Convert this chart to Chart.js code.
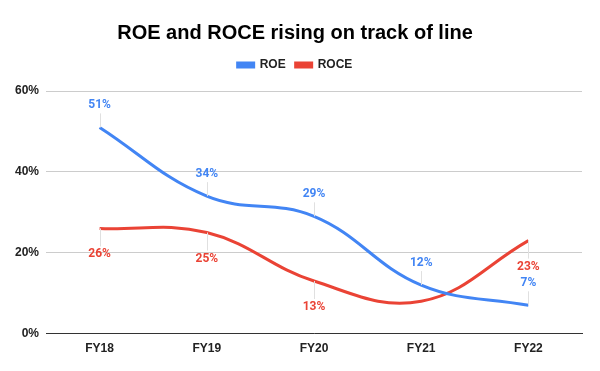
<!DOCTYPE html>
<html>
<head>
<meta charset="utf-8">
<script src="https://cdn.jsdelivr.net/npm/chart.js@4.4.0/dist/chart.umd.min.js"></script>
<style>
  html, body { margin: 0; padding: 0; background: #fff; }
  #wrap { width: 600px; height: 371px; }
</style>
</head>
<body>
<div id="wrap"><canvas id="roeChart" width="600" height="371"></canvas></div>
<script>
const years = ['FY18', 'FY19', 'FY20', 'FY21', 'FY22'];
const roeValues = [51, 34, 29, 12, 7];
const roceValues = [26, 25, 13, 8, 23];
const yTicks = [0, 20, 40, 60];

// where each data label sits: 'up', 'down' or null (hidden, as in the original)
const roeLabelSide = ['up', 'up', 'up', 'up', 'up'];
const roceLabelSide = ['down', 'down', 'down', null, 'down'];

const BLUE = '#4285f4';
const RED = '#ea4335';

const labelPlugin = {
  id: 'pointLabels',
  afterDatasetsDraw(chart) {
    const ctx = chart.ctx;
    chart.data.datasets.forEach((ds, di) => {
      const meta = chart.getDatasetMeta(di);
      const sides = ds.labelSide;
      meta.data.forEach((pt, i) => {
        const side = sides[i];
        if (!side) return;
        const ty = side === 'up' ? pt.y - 22 : pt.y + 26;
        ctx.save();
        // leader line
        ctx.strokeStyle = '#e0e0e0';
        ctx.lineWidth = 1;
        ctx.beginPath();
        ctx.moveTo(Math.round(pt.x) + 0.5, pt.y);
        ctx.lineTo(Math.round(pt.x) + 0.5, side === 'up' ? ty + 8 : ty - 8);
        ctx.stroke();
        ctx.fillStyle = ds.borderColor;
        ctx.font = 'bold 12px Roboto, Arial, sans-serif';
        ctx.textAlign = 'center';
        ctx.textBaseline = 'middle';
        ctx.fillText(ds.data[i] + '%', pt.x, ty);
        ctx.restore();
      });
    });
  }
};

// extra room between legend and plot
const legendGap = {
  id: 'legendGap',
  beforeInit(chart) {
    const fit = chart.legend.fit;
    chart.legend.fit = function () {
      fit.bind(chart.legend)();
      this.height += 10;
    };
  }
};

const ctx = document.getElementById('roeChart').getContext('2d');
const chart = new Chart(ctx, {
  type: 'line',
  data: {
    labels: years,
    datasets: [
      {
        label: 'ROE',
        data: roeValues,
        borderColor: BLUE,
        backgroundColor: BLUE,
        borderWidth: 3,
        tension: 0.4,
        pointRadius: 0,
        labelSide: roeLabelSide
      },
      {
        label: 'ROCE',
        data: roceValues,
        borderColor: RED,
        backgroundColor: RED,
        borderWidth: 3,
        tension: 0.4,
        pointRadius: 0,
        labelSide: roceLabelSide
      }
    ]
  },
  options: {
    responsive: false,
    animation: false,
    layout: { padding: { top: 21, left: 8, right: 18, bottom: 15 } },
    plugins: {
      title: {
        display: true,
        text: 'ROE and ROCE rising on track of line',
        color: '#000',
        font: { family: 'Arial, "Liberation Sans", sans-serif', size: 20, weight: 'bold' },
        padding: { top: 0, bottom: 4 }
      },
      legend: {
        display: true,
        labels: {
          color: '#222',
          boxWidth: 16,
          boxHeight: 4,
          font: { family: 'Arial, "Liberation Sans", sans-serif', size: 12, weight: 'bold' },
          padding: 10
        }
      },
      tooltip: { enabled: false }
    },
    scales: {
      x: {
        offset: true,
        grid: { display: false },
        border: { display: true, color: '#333', width: 1 },
        ticks: {
          color: '#222',
          font: { family: 'Arial, "Liberation Sans", sans-serif', size: 12, weight: 'bold' },
          padding: 0
        }
      },
      y: {
        min: yTicks[0],
        max: yTicks[yTicks.length - 1],
        afterBuildTicks(axis) { axis.ticks = yTicks.map(v => ({ value: v })); },
        grid: { color: '#cccccc', drawTicks: false },
        border: { display: false },
        ticks: {
          color: '#222',
          padding: 7,
          font: { family: 'Arial, "Liberation Sans", sans-serif', size: 12, weight: 'bold' },
          callback: v => v + '%'
        }
      }
    }
  },
  plugins: [labelPlugin, legendGap]
});
</script>
</body>
</html>
